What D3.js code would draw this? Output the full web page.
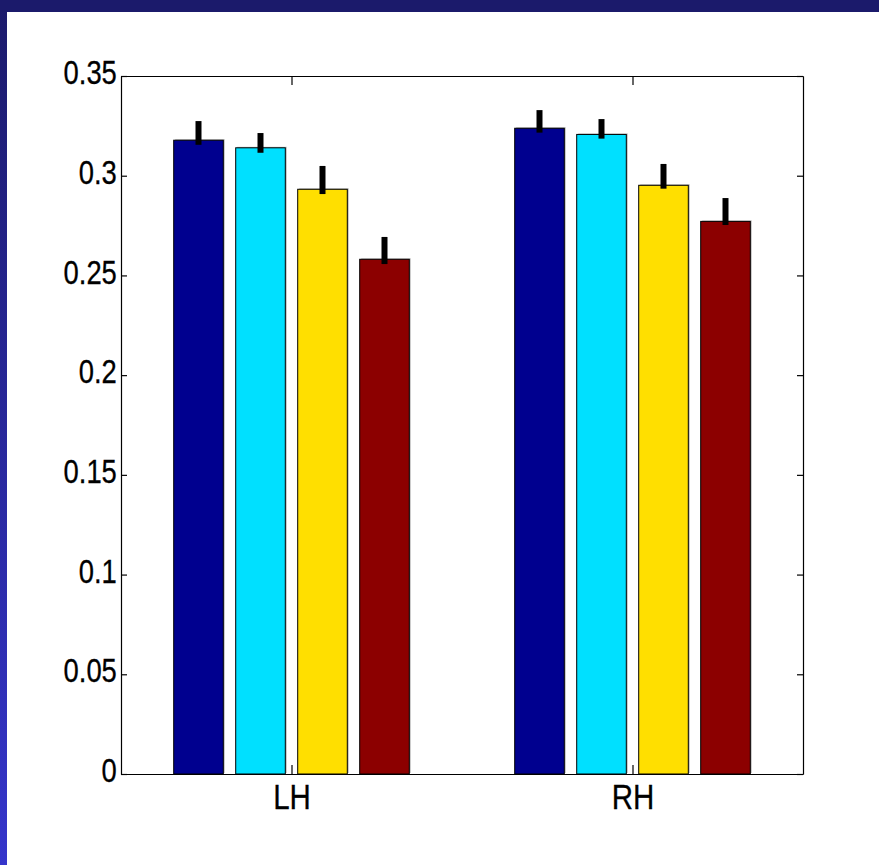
<!DOCTYPE html>
<html>
<head>
<meta charset="utf-8">
<script src="https://cdn.jsdelivr.net/npm/d3@7"></script>
<style>
  html, body { margin: 0; padding: 0; background: #ffffff; }
  svg { display: block; }
</style>
</head>
<body>
<div id="chart"></div>
<script>
// Hemisphere groups on the x axis
const categories = ["LH", "RH"];
// Four conditions per group, drawn left to right
const seriesKeys = ["c1", "c2", "c3", "c4"];
const seriesColors = ["#00008f", "#00e0ff", "#ffdf00", "#8c0000"];

// Bar heights (means) per group, one entry per condition
const meansLH = [0.3178, 0.3140, 0.2932, 0.2581];
const meansRH = [0.3238, 0.3207, 0.2952, 0.2771];
// Upper and lower ends of the error bars
const errTopLH = [0.3274, 0.3214, 0.3049, 0.2693];
const errBotLH = [0.3155, 0.3115, 0.2908, 0.2557];
const errTopRH = [0.3329, 0.3284, 0.3059, 0.2888];
const errBotRH = [0.3216, 0.3186, 0.2935, 0.2753];

// Y axis ticks and their labels
const yTickValues = [0, 0.05, 0.1, 0.15, 0.2, 0.25, 0.3, 0.35];
const yTickLabels = ["0", "0.05", "0.1", "0.15", "0.2", "0.25", "0.3", "0.35"];

const groups = [
  { name: categories[0], pos: 1, means: meansLH, top: errTopLH, bot: errBotLH },
  { name: categories[1], pos: 2, means: meansRH, top: errTopRH, bot: errBotRH }
];

const W = 879, H = 865;
const plot = { left: 121, right: 803, top: 76, bottom: 774 };

const svg = d3.select("#chart").append("svg")
  .attr("width", W).attr("height", H);

// Slide frame: dark band on top, gradient band down the left edge
const defs = svg.append("defs");
const grad = defs.append("linearGradient")
  .attr("id", "sideBand").attr("x1", 0).attr("y1", 0).attr("x2", 0).attr("y2", 1);
grad.append("stop").attr("offset", "0%").attr("stop-color", "#1b1a6b");
grad.append("stop").attr("offset", "100%").attr("stop-color", "#3535cb");

svg.append("rect").attr("width", W).attr("height", H).attr("fill", "#ffffff");
svg.append("rect").attr("x", 0).attr("y", 0).attr("width", 7).attr("height", H)
  .attr("fill", "url(#sideBand)");
svg.append("rect").attr("x", 0).attr("y", 0).attr("width", W).attr("height", 12)
  .attr("fill", "#1b1a6b");

// Scales
const x = d3.scaleLinear().domain([0.5, 2.5]).range([plot.left, plot.right]);
const y = d3.scaleLinear().domain([0, 0.35]).range([plot.bottom, plot.top]);

const nSeries = seriesKeys.length;
const groupWidth = Math.min(0.8, nSeries / (nSeries + 1.5));
const inner = d3.scaleBand()
  .domain(seriesKeys)
  .range([-groupWidth / 2, groupWidth / 2])
  .paddingInner(0.2)
  .paddingOuter(0.1);

const barData = [];
groups.forEach(g => {
  seriesKeys.forEach((k, i) => {
    barData.push({
      key: k, color: seriesColors[i], pos: g.pos,
      value: g.means[i], top: g.top[i], bot: g.bot[i]
    });
  });
});

const barX0 = d => x(d.pos + inner(d.key));
const barX1 = d => x(d.pos + inner(d.key) + inner.bandwidth());

const bars = svg.append("g").attr("class", "bars");

// Soft drop shadow behind each bar
bars.selectAll("rect.shadow").data(barData).join("rect")
  .attr("class", "shadow")
  .attr("x", d => barX0(d) + 1.5)
  .attr("y", d => y(d.value) - 1)
  .attr("width", d => barX1(d) - barX0(d))
  .attr("height", d => y(0) - y(d.value))
  .attr("fill", "#8a8a8a")
  .attr("opacity", 0.55);

bars.selectAll("rect.bar").data(barData).join("rect")
  .attr("class", "bar")
  .attr("x", barX0)
  .attr("y", d => y(d.value))
  .attr("width", d => barX1(d) - barX0(d))
  .attr("height", d => y(0) - y(d.value))
  .attr("fill", d => d.color)
  .attr("stroke", "#000")
  .attr("stroke-width", 1);

// Error bars
bars.selectAll("line.err").data(barData).join("line")
  .attr("class", "err")
  .attr("x1", d => (barX0(d) + barX1(d)) / 2)
  .attr("x2", d => (barX0(d) + barX1(d)) / 2)
  .attr("y1", d => y(d.bot))
  .attr("y2", d => y(d.top))
  .attr("stroke", "#000")
  .attr("stroke-width", 6);

// Axes: box with inward ticks on all four sides; labels in a condensed sans
const labelFont = "'Liberation Sans', Arial, sans-serif";

const yAxis = d3.axisLeft(y).tickValues(yTickValues)
  .tickSizeInner(-6).tickSizeOuter(0).tickPadding(5)
  .tickFormat((d, i) => yTickLabels[i]);
const gy = svg.append("g").attr("transform", `translate(${plot.left},0)`).call(yAxis);
gy.selectAll("text")
  .attr("dy", "0.23em")
  .attr("transform", "scale(0.83,1)")
  .style("font-family", labelFont)
  .style("font-size", "33px")
  .attr("fill", "#000")
  .attr("stroke", "#000")
  .attr("stroke-width", 0.3);

const yAxisR = d3.axisRight(y).tickValues(yTickValues)
  .tickSizeInner(-6).tickSizeOuter(0).tickFormat("");
svg.append("g").attr("transform", `translate(${plot.right},0)`).call(yAxisR);

const xAxis = d3.axisBottom(x).tickValues([1, 2])
  .tickSizeInner(-9).tickSizeOuter(0).tickPadding(0)
  .tickFormat((d, i) => categories[i]);
const gx = svg.append("g").attr("transform", `translate(0,${plot.bottom})`).call(xAxis);
gx.selectAll("text")
  .attr("y", 35).attr("dy", 0)
  .attr("transform", "scale(0.82,1)")
  .style("font-family", labelFont)
  .style("font-size", "36px")
  .attr("fill", "#000")
  .attr("stroke", "#000")
  .attr("stroke-width", 0.3);

const xAxisT = d3.axisTop(x).tickValues([1, 2])
  .tickSizeInner(-9).tickSizeOuter(0).tickFormat("");
svg.append("g").attr("transform", `translate(0,${plot.top})`).call(xAxisT);

svg.selectAll(".tick line").attr("stroke", "#000").attr("stroke-width", 1.2);
svg.selectAll(".domain").attr("stroke", "#000").attr("stroke-width", 1.2);
</script>
</body>
</html>
